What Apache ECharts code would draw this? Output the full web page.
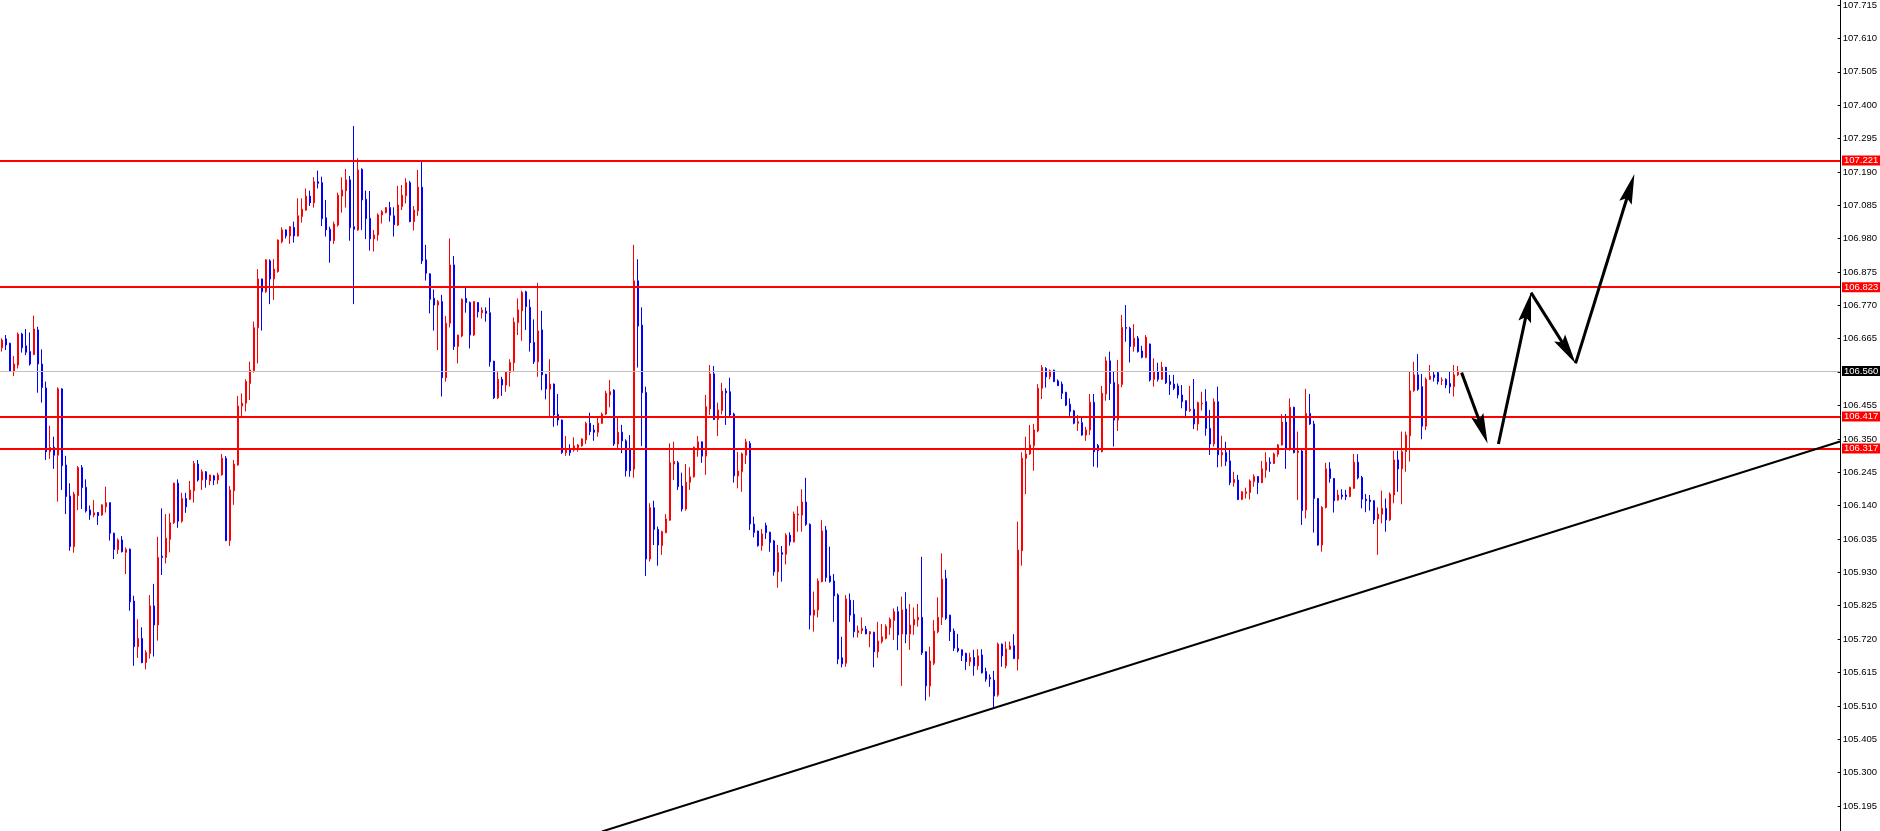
<!DOCTYPE html>
<html>
<head>
<meta charset="utf-8">
<script src="https://cdn.jsdelivr.net/npm/echarts@6/dist/echarts.min.js"></script>
<style>
html,body{margin:0;padding:0;background:#fff;}
#chart{width:1880px;height:831px;}
</style>
</head>
<body>
<div id="chart"></div>
<script>
// ---- data ----
const OPEN = [106.633,106.661,106.647,106.558,106.579,106.676,106.639,106.621,106.612,106.689,106.582,106.507,106.307,106.321,106.296,106.504,106.265,106.168,106.009,106.169,106.257,106.195,106.124,106.108,106.116,106.108,106.134,106.147,106.051,106.000,106.030,105.991,106.001,105.838,105.695,105.721,105.645,105.674,105.823,105.763,105.979,105.975,106.032,106.084,106.208,106.089,106.160,106.158,106.184,106.268,106.218,106.244,106.215,106.231,106.218,106.234,106.286,106.028,106.184,106.265,106.450,106.459,106.521,106.561,106.696,106.849,106.809,106.906,106.849,106.872,106.966,107.003,106.984,107.011,106.984,107.045,107.065,107.109,107.088,107.154,107.151,107.041,107.005,106.969,107.018,107.109,107.126,107.160,107.013,107.003,107.193,107.099,107.039,106.975,106.987,107.050,107.057,107.073,107.047,107.018,107.076,107.110,107.151,107.029,107.063,107.137,106.909,106.865,106.788,106.767,106.778,106.539,106.710,106.893,106.637,106.670,106.788,106.775,106.673,106.775,106.743,106.748,106.743,106.591,106.476,106.534,106.516,106.556,106.586,106.712,106.749,106.809,106.760,106.650,106.589,106.689,106.550,106.503,106.519,106.424,106.406,106.304,106.314,106.312,106.319,106.325,106.344,106.396,106.375,106.368,106.396,106.425,106.485,106.500,106.331,106.368,106.341,106.317,106.252,106.843,106.704,106.493,105.970,106.131,106.063,106.012,106.053,106.092,106.268,106.272,106.199,106.127,106.211,106.228,106.312,106.338,106.293,106.441,106.551,106.408,106.436,106.497,106.495,106.425,106.231,106.244,106.296,106.333,106.080,106.058,106.012,106.075,106.054,106.027,105.930,105.990,105.985,106.045,106.024,106.108,106.108,106.149,106.079,105.794,105.810,105.899,106.061,105.917,105.901,105.857,105.660,105.643,105.841,105.797,105.739,105.745,105.750,105.735,105.740,105.679,105.711,105.721,105.755,105.777,105.805,105.735,105.813,105.735,105.763,105.779,105.787,105.679,105.572,105.643,105.742,105.787,105.909,105.794,105.744,105.690,105.685,105.674,105.648,105.661,105.635,105.669,105.617,105.598,105.590,105.543,105.703,105.635,105.687,105.698,105.656,105.996,106.286,106.300,106.326,106.372,106.506,106.568,106.542,106.563,106.529,106.519,106.493,106.456,106.435,106.396,106.398,106.359,106.375,106.462,106.326,106.307,106.488,106.592,106.524,106.406,106.518,106.697,106.694,106.637,106.663,106.623,106.603,106.645,106.534,106.558,106.534,106.572,106.527,106.519,106.513,106.485,106.467,106.436,106.440,106.394,106.457,106.464,106.380,106.331,106.464,106.297,106.304,106.278,106.210,106.218,106.157,106.176,106.179,106.213,106.229,106.210,106.249,106.274,106.270,106.299,106.328,106.400,106.314,106.446,106.304,106.309,106.124,106.427,106.394,106.160,106.014,106.132,106.253,106.223,106.155,106.171,106.171,106.166,106.192,106.274,106.226,106.158,106.155,106.153,106.096,106.111,106.129,106.093,106.171,106.281,106.253,106.307,106.357,106.498,106.548,106.511,106.387,106.534,106.548,106.555,106.530,106.534,106.521,106.511,106.548];
const CLOSE = [106.657,106.642,106.560,106.582,106.676,106.633,106.619,106.582,106.692,106.582,106.508,106.307,106.320,106.296,106.504,106.263,106.166,106.009,106.174,106.257,106.194,106.121,106.108,106.115,106.106,106.140,106.147,106.051,106.000,106.030,105.993,106.000,105.836,105.695,105.721,105.645,105.677,105.823,105.763,105.975,105.975,106.035,106.084,106.208,106.089,106.160,106.134,106.186,106.270,106.218,106.244,106.220,106.234,106.218,106.234,106.286,106.028,106.187,106.268,106.450,106.459,106.527,106.563,106.696,106.849,106.809,106.909,106.849,106.880,106.971,107.003,106.984,107.013,106.984,107.047,107.068,107.109,107.088,107.154,107.149,107.038,107.003,106.969,107.021,107.112,107.128,107.160,107.010,107.005,107.191,107.097,107.038,106.975,106.987,107.050,107.060,107.073,107.049,107.019,107.081,107.112,107.151,107.029,107.065,107.137,106.906,106.867,106.785,106.767,106.778,106.539,106.710,106.893,106.637,106.673,106.785,106.775,106.673,106.778,106.746,106.751,106.741,106.589,106.476,106.534,106.516,106.556,106.587,106.713,106.752,106.807,106.762,106.649,106.589,106.686,106.548,106.504,106.519,106.422,106.406,106.304,106.314,106.304,106.325,106.328,106.347,106.396,106.370,106.368,106.396,106.425,106.490,106.495,106.331,106.368,106.341,106.247,106.247,106.843,106.701,106.492,105.970,106.131,106.063,106.014,106.056,106.096,106.272,106.276,106.197,106.127,106.211,106.228,106.321,106.338,106.293,106.448,106.551,106.408,106.438,106.497,106.492,106.422,106.231,106.246,106.300,106.338,106.080,106.053,106.012,106.049,106.053,106.022,105.930,105.990,105.985,106.045,106.024,106.111,106.111,106.149,106.079,105.794,105.810,105.901,106.058,105.912,105.899,105.854,105.656,105.641,105.845,105.794,105.742,105.745,105.752,105.735,105.742,105.679,105.713,105.726,105.758,105.781,105.805,105.732,105.810,105.734,105.763,105.781,105.787,105.676,105.572,105.650,105.744,105.787,105.907,105.784,105.742,105.690,105.682,105.667,105.648,105.661,105.635,105.666,105.613,105.593,105.594,105.540,105.703,105.666,105.688,105.697,105.658,105.998,106.286,106.300,106.328,106.375,106.506,106.571,106.542,106.561,106.527,106.514,106.490,106.453,106.433,106.396,106.401,106.359,106.375,106.462,106.307,106.310,106.490,106.592,106.521,106.406,106.518,106.697,106.694,106.637,106.663,106.621,106.603,106.666,106.532,106.558,106.534,106.572,106.523,106.518,106.506,106.485,106.464,106.436,106.440,106.394,106.461,106.459,106.380,106.331,106.464,106.297,106.304,106.276,106.210,106.220,106.157,106.181,106.181,106.215,106.229,106.210,106.253,106.274,106.270,106.300,106.328,106.400,106.314,106.446,106.304,106.309,106.122,106.427,106.394,106.160,106.014,106.132,106.253,106.223,106.153,106.171,106.166,106.166,106.195,106.274,106.225,106.158,106.153,106.150,106.093,106.111,106.129,106.093,106.174,106.281,106.253,106.307,106.359,106.498,106.548,106.503,106.387,106.534,106.544,106.540,106.527,106.532,106.516,106.511,106.548,106.560];
const LOW = [106.621,106.626,106.558,106.544,106.568,106.618,106.610,106.577,106.610,106.492,106.461,106.281,106.284,106.253,106.150,106.187,106.111,105.996,105.990,106.124,106.127,106.116,106.093,106.101,106.077,106.106,106.116,106.028,105.970,105.986,105.991,105.923,105.808,105.635,105.660,105.643,105.624,105.658,105.664,105.714,105.920,105.956,105.991,106.080,106.068,106.084,106.115,106.155,106.147,106.213,106.187,106.194,106.202,106.202,106.205,106.232,106.026,106.011,106.140,106.263,106.417,106.433,106.469,106.555,106.584,106.687,106.805,106.770,106.783,106.869,106.961,106.976,106.959,106.963,106.982,107.026,107.063,107.078,107.073,107.133,107.015,106.982,106.900,106.959,107.013,107.057,107.073,106.969,106.770,107.000,107.003,106.974,106.938,106.935,106.969,107.023,107.055,107.029,106.982,107.015,107.065,107.086,107.027,107.001,107.047,106.896,106.844,106.741,106.687,106.626,106.480,106.527,106.697,106.626,106.584,106.666,106.743,106.631,106.670,106.728,106.725,106.715,106.574,106.472,106.472,106.482,106.495,106.511,106.558,106.673,106.655,106.689,106.621,106.582,106.542,106.500,106.471,106.419,106.385,106.389,106.300,106.294,106.294,106.307,106.307,106.323,106.331,106.359,106.341,106.354,106.394,106.422,106.446,106.325,106.314,106.302,106.229,106.228,106.225,106.571,106.325,105.917,105.962,106.014,105.949,105.983,106.051,106.090,106.218,106.187,106.119,106.122,106.187,106.226,106.291,106.272,106.234,106.422,106.406,106.356,106.424,106.391,106.415,106.210,106.192,106.181,106.268,106.061,106.038,106.009,105.996,106.033,105.993,105.918,105.880,105.899,105.953,106.012,106.022,106.056,106.056,106.074,105.749,105.742,105.787,105.897,105.899,105.896,105.773,105.640,105.630,105.632,105.773,105.724,105.724,105.735,105.734,105.693,105.630,105.660,105.705,105.718,105.732,105.716,105.684,105.572,105.706,105.685,105.732,105.758,105.669,105.526,105.538,105.637,105.737,105.763,105.779,105.713,105.681,105.677,105.650,105.622,105.634,105.604,105.622,105.611,105.585,105.569,105.502,105.538,105.632,105.627,105.685,105.656,105.620,105.949,106.174,106.297,106.247,106.368,106.472,106.508,106.534,106.525,106.513,106.472,106.450,106.419,106.393,106.372,106.357,106.341,106.359,106.260,106.257,106.305,106.467,106.469,106.323,106.372,106.509,106.652,106.587,106.621,106.618,106.600,106.600,106.527,106.511,106.527,106.532,106.519,106.485,106.500,106.474,106.443,106.412,106.432,106.378,106.373,106.436,106.357,106.297,106.323,106.258,106.260,106.262,106.202,106.197,106.155,106.155,106.160,106.157,106.197,106.174,106.208,106.225,106.244,106.268,106.291,106.326,106.253,106.310,106.302,106.155,106.077,106.098,106.391,106.053,106.012,105.993,106.129,106.210,106.116,106.153,106.157,106.155,106.164,106.190,106.220,106.129,106.117,106.122,106.080,105.983,106.082,106.056,106.090,106.145,106.181,106.142,106.244,106.276,106.495,106.498,106.346,106.375,106.532,106.527,106.518,106.516,106.506,106.490,106.480,106.544];
const HIGH = [106.663,106.673,106.649,106.607,106.681,106.680,106.692,106.681,106.734,106.699,106.628,106.527,106.388,106.354,106.509,106.506,106.294,106.208,106.181,106.262,106.265,106.220,106.138,106.155,106.117,106.142,106.197,106.148,106.053,106.035,106.042,106.006,106.003,105.855,105.781,105.756,105.684,105.857,105.892,106.040,106.129,106.111,106.113,106.210,106.220,106.178,106.178,106.215,106.278,106.281,106.251,106.246,106.234,106.234,106.241,106.300,106.293,106.199,106.281,106.482,106.490,106.534,106.589,106.715,106.880,106.850,106.911,106.911,106.911,106.973,107.011,107.004,107.015,107.029,107.102,107.102,107.133,107.126,107.168,107.189,107.170,107.097,107.013,107.029,107.120,107.168,107.194,107.172,107.329,107.228,107.196,107.126,107.125,107.003,107.055,107.065,107.074,107.091,107.074,107.141,107.144,107.165,107.157,107.078,107.191,107.222,106.956,106.867,106.816,106.783,106.799,106.733,106.976,106.921,106.674,106.788,106.822,106.778,106.780,106.776,106.760,106.760,106.790,106.592,106.558,106.542,106.558,106.597,106.728,106.788,106.812,106.812,106.785,106.722,106.837,106.749,106.551,106.597,106.521,106.488,106.408,106.356,106.330,106.352,106.331,106.349,106.401,106.429,106.391,106.415,106.430,106.498,106.532,106.503,106.415,106.391,106.346,106.359,106.956,106.911,106.760,106.511,106.145,106.153,106.072,106.059,106.111,106.333,106.338,106.278,106.241,106.268,106.258,106.323,106.356,106.339,106.485,106.579,106.576,106.461,106.523,106.506,106.539,106.429,106.306,106.304,106.347,106.340,106.103,106.059,106.064,106.084,106.056,106.030,106.014,106.011,106.051,106.054,106.119,106.136,106.189,106.225,106.082,105.868,105.909,106.092,106.074,106.009,105.923,105.862,105.726,105.857,105.862,105.841,105.761,105.787,105.760,105.744,105.742,105.773,105.766,105.765,105.787,105.815,105.821,105.852,105.866,105.829,105.818,105.829,105.977,105.680,105.695,105.779,105.850,105.988,105.936,105.795,105.752,105.735,105.686,105.676,105.676,105.685,105.687,105.687,105.629,105.608,105.619,105.708,105.705,105.711,105.711,105.734,106.087,106.305,106.354,106.391,106.394,106.519,106.579,106.572,106.565,106.564,106.534,106.527,106.495,106.474,106.438,106.422,106.415,106.385,106.488,106.488,106.331,106.513,106.605,106.621,106.558,106.595,106.736,106.767,106.699,106.707,106.670,106.639,106.673,106.646,106.600,106.586,106.589,106.573,106.548,106.548,106.521,106.516,106.468,106.513,106.535,106.464,106.495,106.503,106.438,106.474,106.511,106.357,106.338,106.312,106.244,106.234,106.183,106.194,106.220,106.236,106.230,106.278,106.305,106.289,106.304,106.331,106.425,106.425,106.474,106.448,106.370,106.312,106.504,106.488,106.404,106.161,106.136,106.272,106.274,106.224,106.187,106.189,106.187,106.197,106.300,106.299,106.231,106.174,106.171,106.155,106.132,106.185,106.160,106.179,106.310,106.310,106.370,106.370,106.558,106.589,106.613,106.551,106.540,106.579,106.558,106.558,106.540,106.537,106.558,106.579,106.576];

const RED_LEVELS = [107.221, 106.823, 106.417, 106.317];
const PRICE_NOW = 106.560;

const TICK_MIN = 105.195;
const TICK_MAX = 107.715;
const TICK_STEP = 0.105;

// trend line: [bar index, price]
const TREND = [[150, 105.115], [459.5, 106.339]];
// arrows: [fromBar, fromPrice, toBar, toPrice]
const ARROWS = [
  [364.9, 106.555, 371.4, 106.333],
  [374.1, 106.331, 382.25, 106.806],
  [382.25, 106.806, 393.4, 106.584],
  [393.4, 106.584, 408.1, 107.178]
];

// ---- layout ----
const W = 1880, H = 831;
const AXIS_RIGHT = 40;
const LABEL_TOP = 3, LABEL_BOTTOM = 25;
const SLOTS = 460;
const PPU = (H - LABEL_TOP - LABEL_BOTTOM) / (TICK_MAX - TICK_MIN);
const Y_MAX = TICK_MAX + LABEL_TOP / PPU;
const Y_MIN = TICK_MIN - LABEL_BOTTOM / PPU;

const categories = [];
for (let i = 0; i < SLOTS; i++) categories.push(String(i));
const candles = OPEN.map((o, i) => [o, CLOSE[i], LOW[i], HIGH[i]]);

const FONT = 'Liberation Sans';
const FS = 9.5;
const chart = echarts.init(document.getElementById('chart'), null, {renderer: 'canvas'});

const boxLabel = (bg) => ({
  show: true, position: 'end', distance: 2,
  formatter: (p) => Number(p.value).toFixed(3),
  color: '#fff', backgroundColor: bg, fontFamily: FONT, fontSize: FS,
  padding: [1, 3, 0, 2], lineHeight: 9
});

chart.setOption({
  animation: false,
  backgroundColor: '#fff',
  grid: [
    {left: 0, right: AXIS_RIGHT, top: 0, bottom: 0},
    {left: 0, right: AXIS_RIGHT, top: LABEL_TOP, bottom: LABEL_BOTTOM}
  ],
  xAxis: [
    {type: 'category', gridIndex: 0, data: categories, boundaryGap: true, show: false},
    {type: 'value', gridIndex: 0, min: -0.5, max: SLOTS - 0.5, show: false},
    {type: 'category', gridIndex: 1, data: categories, show: false}
  ],
  yAxis: [
    {type: 'value', gridIndex: 0, position: 'right', min: Y_MIN, max: Y_MAX, scale: true,
     axisLine: {show: true, onZero: false, lineStyle: {color: '#000', width: 1}},
     axisTick: {show: false}, axisLabel: {show: false}, splitLine: {show: false}},
    {type: 'value', gridIndex: 1, position: 'right', min: TICK_MIN, max: TICK_MAX, interval: TICK_STEP,
     axisLine: {show: false, onZero: false},
     axisTick: {show: true, length: 3, lineStyle: {color: '#000'}},
     axisLabel: {show: true, margin: 5, color: '#000', fontFamily: FONT, fontSize: FS,
       formatter: (v) => v.toFixed(3)},
     splitLine: {show: false}}
  ],
  series: [
    {
      type: 'candlestick', xAxisIndex: 0, yAxisIndex: 0,
      data: candles, barWidth: 2,
      itemStyle: {color: '#ff0000', color0: '#0000ff', borderColor: '#ff0000', borderColor0: '#0000ff', borderWidth: 1},
      markLine: {
        silent: true, symbol: ['none', 'none'], animation: false, precision: 3,
        data: [
          {yAxis: PRICE_NOW, lineStyle: {color: '#c0c0c0', width: 1, type: 'solid'}, label: boxLabel('#000')}
        ].concat(RED_LEVELS.map(v => ({yAxis: v, lineStyle: {color: '#ff0000', width: 2, type: 'solid'}, label: boxLabel('#ff0000')})))
      }
    },
    {
      type: 'line', xAxisIndex: 1, yAxisIndex: 0, data: TREND, symbol: 'none', clip: false, z: 5,
      lineStyle: {color: '#000', width: 2}
    },
    {
      type: 'custom', xAxisIndex: 1, yAxisIndex: 0, data: ARROWS, z: 6, clip: false,
      encode: {x: [0, 2], y: [1, 3]},
      renderItem: (params, api) => {
        const p0 = api.coord([api.value(0), api.value(1)]);
        const p1 = api.coord([api.value(2), api.value(3)]);
        const dx = p1[0] - p0[0], dy = p1[1] - p0[1];
        const len = Math.hypot(dx, dy), ux = dx / len, uy = dy / len;
        const L = 30, HW = 6.5;
        const bx = p1[0] - ux * L, by = p1[1] - uy * L;
        return {type: 'group', children: [
          {type: 'line', shape: {x1: p0[0], y1: p0[1], x2: bx + ux * 6, y2: by + uy * 6}, style: {stroke: '#000', lineWidth: 3}},
          {type: 'polygon', shape: {points: [[p1[0], p1[1]], [bx - uy * HW, by + ux * HW], [bx + ux * 5, by + uy * 5], [bx + uy * HW, by - ux * HW]]}, style: {fill: '#000'}}
        ]};
      }
    }
  ]
});
</script>
</body>
</html>
